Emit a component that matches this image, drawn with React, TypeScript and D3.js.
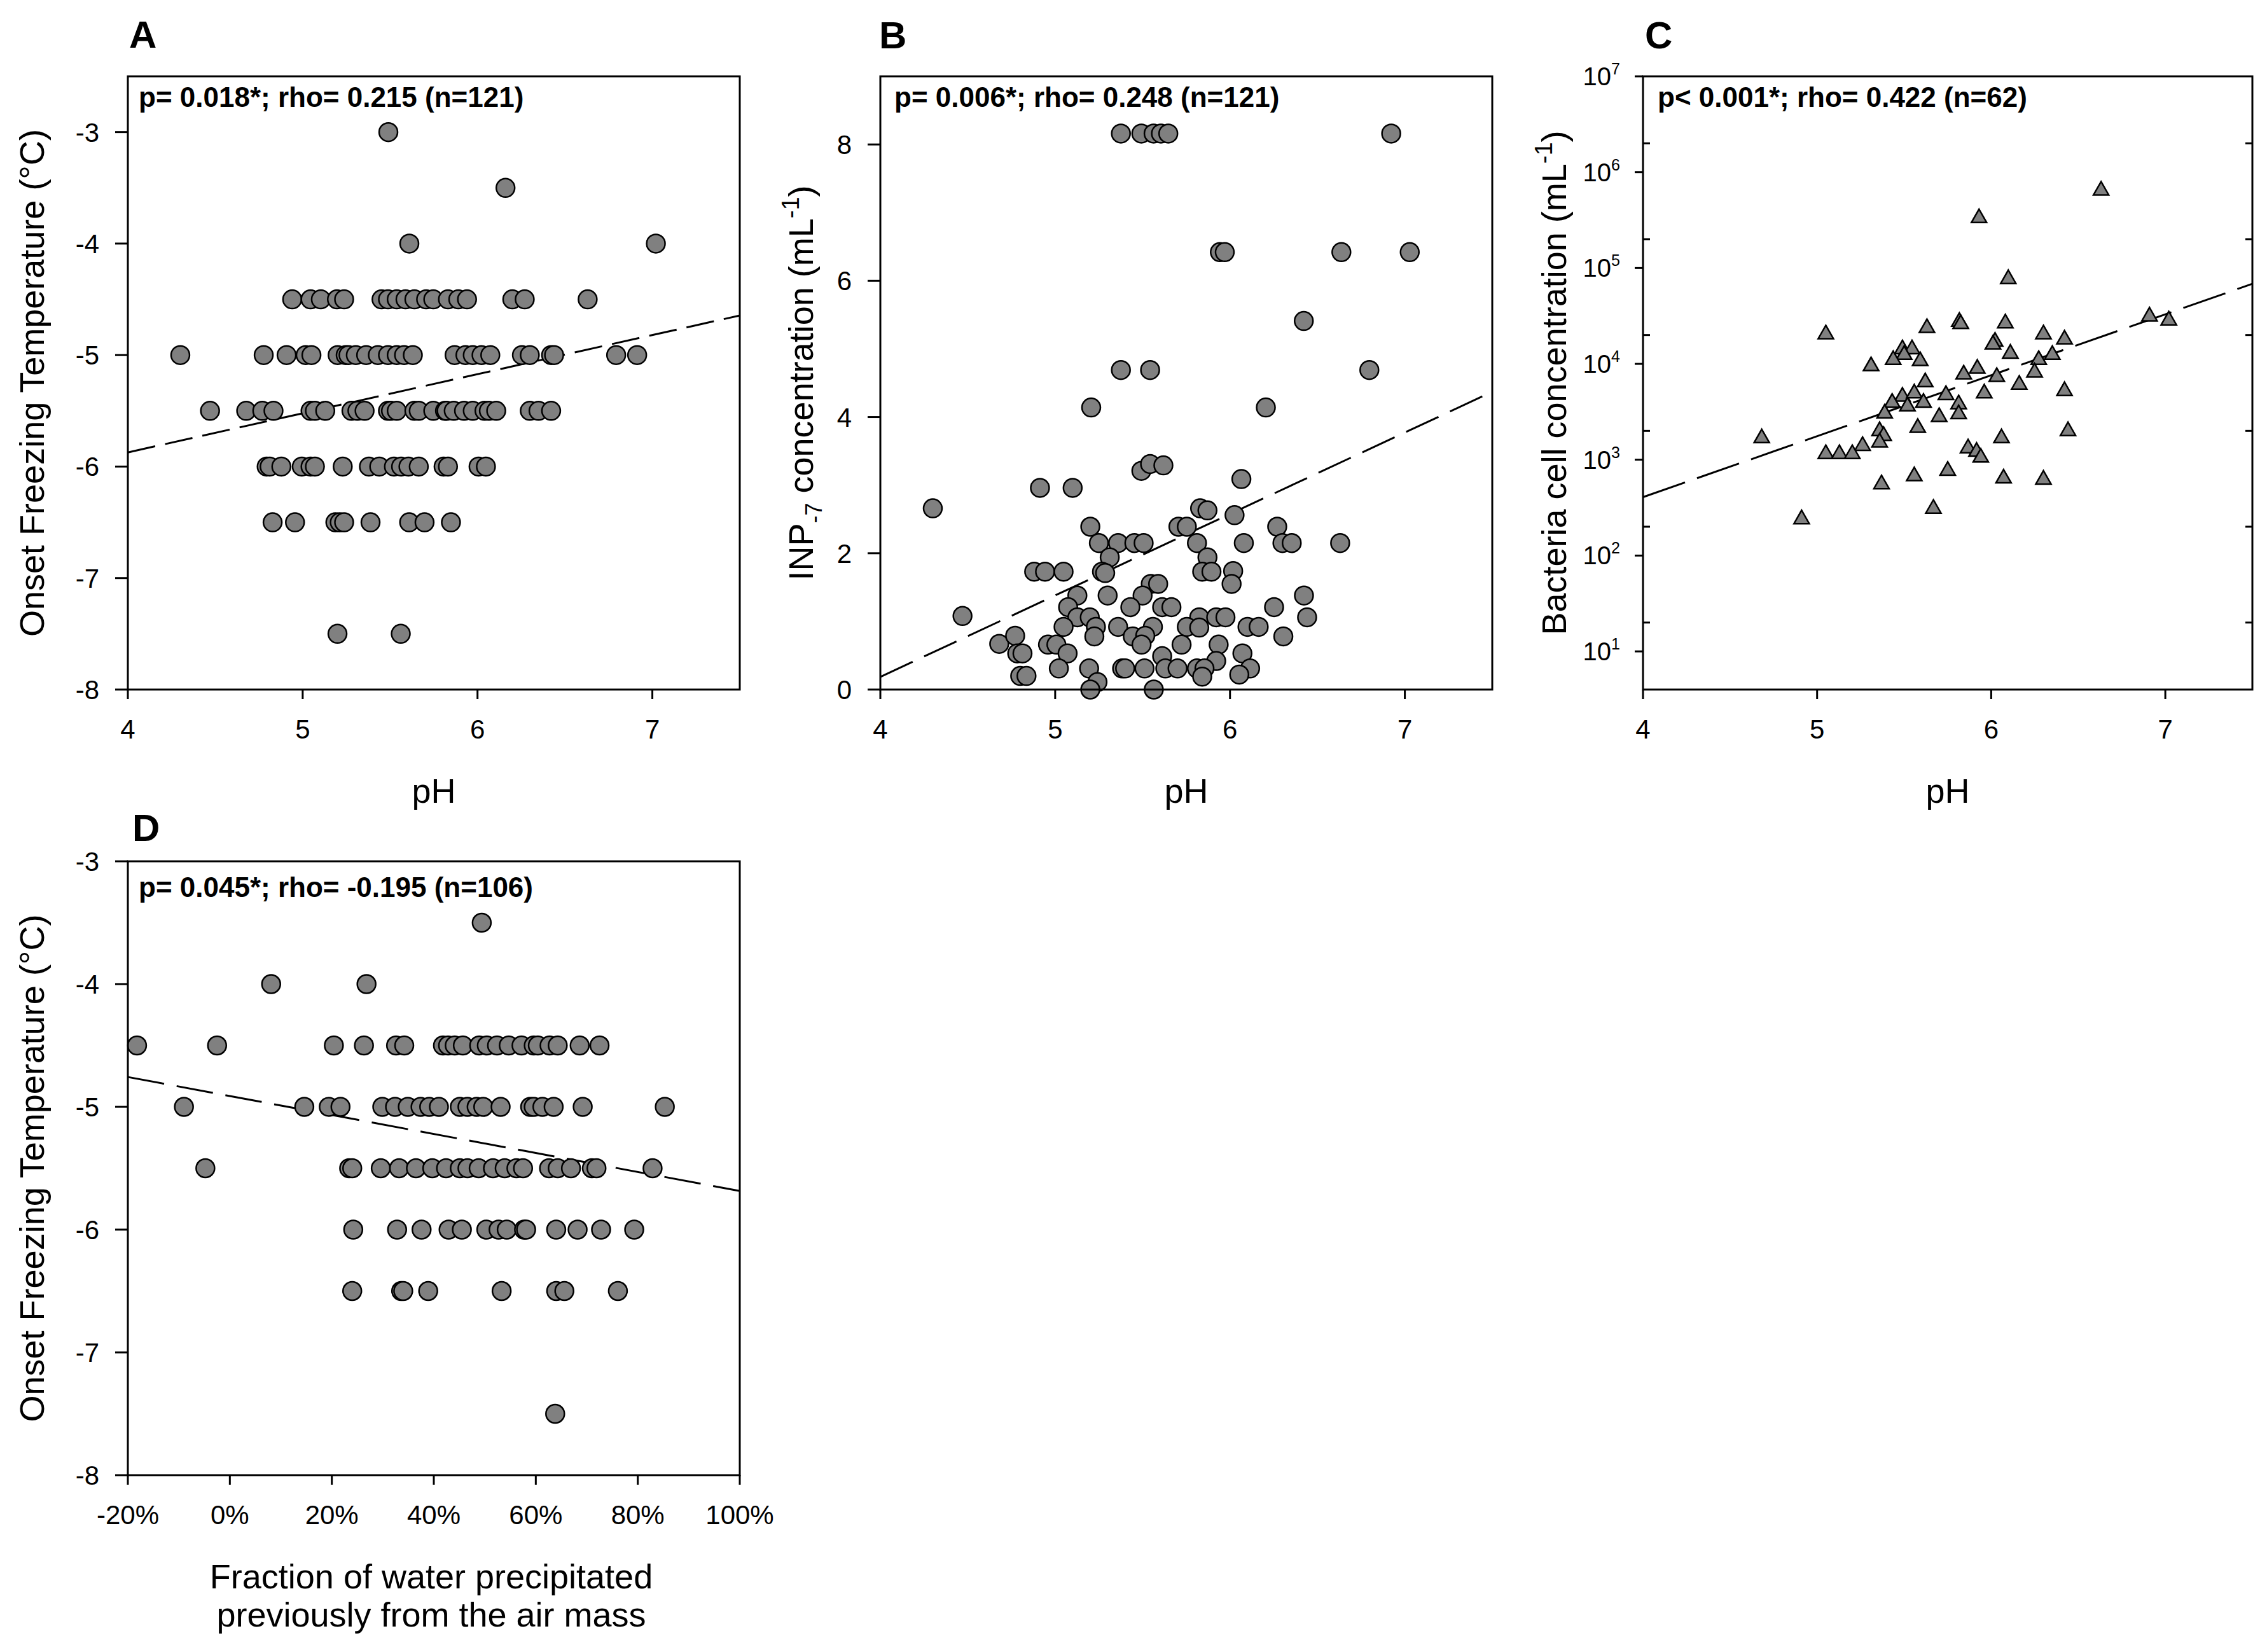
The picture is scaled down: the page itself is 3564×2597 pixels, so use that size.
import React, { useEffect } from 'react';
import * as d3 from 'd3';

const W = 3564;
const H = 2597;
const FONT = '"Liberation Sans", Arial, Helvetica, sans-serif';
const MARK_FILL = '#808080';

// ---- Panel A: onset freezing temperature vs pH (values grouped by temperature level)
const onsetLevelsA = [-3, -3.5, -4, -4.5, -5, -5.5, -6, -6.5, -7.5];
const phByLevelA = [
    [5.49],
    [6.16],
    [5.61, 7.02],
    [4.94, 5.045, 5.104, 5.196, 5.237, 5.451, 5.488, 5.538, 5.588, 5.639, 5.706, 5.747, 5.831, 5.89, 5.94, 6.199, 6.27, 6.63],
    [4.30, 4.777, 4.908, 5.017, 5.05, 5.20, 5.246, 5.262, 5.304, 5.363, 5.43, 5.488, 5.538, 5.58, 5.63, 5.869, 5.931, 5.973, 6.023, 6.073, 6.254, 6.299, 6.421, 6.438, 6.793, 6.913],
    [4.47, 4.677, 4.769, 4.833, 5.045, 5.07, 5.129, 5.279, 5.313, 5.354, 5.488, 5.505, 5.538, 5.639, 5.664, 5.747, 5.814, 5.823, 5.864, 5.923, 5.973, 6.04, 6.065, 6.107, 6.299, 6.349, 6.421],
    [4.794, 4.811, 4.878, 4.995, 5.045, 5.07, 5.229, 5.379, 5.438, 5.522, 5.563, 5.605, 5.664, 5.806, 5.831, 6.006, 6.048],
    [4.828, 4.956, 5.187, 5.212, 5.237, 5.388, 5.609, 5.697, 5.848],
    [5.199, 5.561],
];
const fitA: [number, number][] = [[4, -5.873], [7.5, -4.645]];

// ---- Panel B: INP-7 concentration vs pH  [pH, mL^-1]
const inpVsPh: [number, number][] = [
    [5.376, 8.16], [5.493, 8.16], [5.563, 8.16], [5.605, 8.16], [5.647, 8.16], [6.922, 8.16],
    [5.942, 6.42], [5.97, 6.42], [6.637, 6.42], [7.028, 6.42],
    [6.422, 5.41], [5.376, 4.69], [5.543, 4.69], [6.797, 4.69], [5.206, 4.14], [6.205, 4.14],
    [5.493, 3.21], [5.543, 3.31], [5.619, 3.29], [6.065, 3.09], [4.30, 2.66], [4.913, 2.96], [5.10, 2.96],
    [4.47, 1.08], [4.68, 0.67],
    [5.829, 2.66], [5.871, 2.63], [6.026, 2.56], [5.201, 2.39], [5.705, 2.39], [5.753, 2.39], [6.27, 2.39],
    [5.25, 2.15], [5.36, 2.15], [5.453, 2.15], [5.506, 2.15], [5.811, 2.15], [6.079, 2.15], [6.30, 2.15],
    [6.353, 2.15], [6.63, 2.15], [5.312, 1.94], [5.871, 1.94], [4.88, 1.73], [4.942, 1.73], [5.048, 1.73],
    [5.268, 1.73], [5.286, 1.71], [5.841, 1.73], [5.894, 1.73], [6.018, 1.74], [6.009, 1.55], [5.547, 1.55],
    [5.589, 1.55], [5.127, 1.38], [5.30, 1.38], [5.50, 1.38], [6.423, 1.38], [5.074, 1.21], [5.43, 1.21],
    [5.612, 1.21], [5.665, 1.21], [6.252, 1.21], [5.127, 1.06], [5.198, 1.06], [5.824, 1.06], [5.921, 1.06],
    [5.974, 1.06], [6.441, 1.06], [5.048, 0.92], [5.233, 0.92], [5.36, 0.92], [5.559, 0.92], [5.753, 0.92],
    [5.824, 0.91], [6.10, 0.92], [6.164, 0.92], [4.771, 0.79], [5.224, 0.78], [5.444, 0.78], [5.515, 0.79],
    [6.305, 0.78], [4.959, 0.66], [5.007, 0.66], [5.494, 0.66], [5.723, 0.66], [5.935, 0.66], [4.783, 0.53],
    [4.813, 0.53], [5.071, 0.53], [5.612, 0.49], [6.071, 0.53], [5.921, 0.42], [5.021, 0.31], [5.194, 0.31],
    [5.383, 0.31], [5.40, 0.31], [5.511, 0.31], [5.63, 0.31], [5.70, 0.31], [5.811, 0.31], [5.854, 0.31],
    [6.115, 0.31], [5.841, 0.19], [6.053, 0.22], [4.80, 0.20], [4.836, 0.20], [5.242, 0.11], [5.201, 0.0],
    [5.564, 0.0],
];
const fitB: [number, number][] = [[4, 0.186], [7.5, 4.37]];

// ---- Panel C: bacteria cell concentration vs pH  [pH, cells mL^-1]
const bacteriaVsPh: [number, number][] = [
    [6.631, 6.8e5], [5.930, 3.5e5], [6.098, 8.1e4], [6.909, 3.3e4], [7.020, 3.0e4], [5.05, 2.15e4],
    [5.631, 2.5e4], [5.817, 2.9e4], [5.825, 2.75e4], [6.081, 2.8e4], [6.30, 2.15e4], [6.421, 1.9e4],
    [6.022, 1.8e4], [6.01, 1.68e4], [5.49, 1.5e4], [5.545, 1.5e4], [5.50, 1.31e4], [5.437, 1.16e4],
    [5.592, 1.13e4], [6.11, 1.35e4], [6.351, 1.31e4], [6.273, 1.16e4], [5.31, 1.0e4], [5.92, 9.4e3],
    [5.842, 8.2e3], [6.032, 7.7e3], [6.249, 8.6e3], [5.621, 6.8e3], [6.161, 6.4e3], [6.421, 5.5e3],
    [5.49, 4.8e3], [5.558, 5.2e3], [5.74, 5.0e3], [5.96, 5.2e3], [5.431, 4.15e3], [5.519, 3.8e3],
    [5.611, 4.15e3], [5.813, 4.0e3], [5.388, 3.2e3], [5.813, 3.15e3], [5.701, 2.95e3], [5.578, 2.27e3],
    [5.359, 2.1e3], [5.382, 1.87e3], [5.359, 1.6e3], [4.682, 1.77e3], [5.261, 1.47e3], [5.05, 1.21e3],
    [5.128, 1.21e3], [5.202, 1.21e3], [6.059, 1.77e3], [6.441, 2.1e3], [5.867, 1.39e3], [5.916, 1.28e3],
    [5.94, 1.11e3], [5.75, 810], [5.558, 710], [6.071, 673], [6.30, 655], [5.37, 586], [4.911, 253],
    [5.668, 325],
];
const fitC: [number, number][] = [[4, 407], [7.5, 68400]];

// ---- Panel D: onset freezing temperature vs fraction precipitated (grouped by level)
const onsetLevelsD = [-3.5, -4, -4.5, -5, -5.5, -6, -6.5, -7.5];
const fracByLevelD = [
    [0.494],
    [0.081, 0.268],
    [-0.182, -0.025, 0.204, 0.263, 0.326, 0.342, 0.418, 0.428, 0.441, 0.457, 0.489, 0.504, 0.524, 0.547, 0.572, 0.596, 0.604, 0.627, 0.643, 0.686, 0.725],
    [-0.090, 0.146, 0.194, 0.217, 0.299, 0.324, 0.349, 0.374, 0.391, 0.41, 0.451, 0.466, 0.484, 0.497, 0.531, 0.589, 0.596, 0.613, 0.635, 0.692, 0.853],
    [-0.048, 0.234, 0.24, 0.296, 0.332, 0.365, 0.397, 0.424, 0.451, 0.466, 0.488, 0.516, 0.539, 0.562, 0.575, 0.626, 0.643, 0.669, 0.71, 0.719, 0.829],
    [0.242, 0.328, 0.376, 0.429, 0.455, 0.503, 0.527, 0.543, 0.577, 0.581, 0.64, 0.682, 0.728, 0.793],
    [0.24, 0.336, 0.34, 0.389, 0.533, 0.64, 0.656, 0.761],
    [0.638],
];
const fitD: [number, number][] = [[-0.2, -4.757], [1.0, -5.685]];

const phTicks = [4, 5, 6, 7];
const onsetTicks = [-3, -4, -5, -6, -7, -8];
const inpTicks = [0, 2, 4, 6, 8];
const bacteriaTicks = [1e1, 1e2, 1e3, 1e4, 1e5, 1e6, 1e7];
const bacteriaMinor = [2e1, 2e2, 2e3, 2e4, 2e5, 2e6];
const fracTicks = [-0.2, 0, 0.2, 0.4, 0.6, 0.8, 1.0];

const flatten = (levels: number[], byLevel: number[][]) =>
    byLevel.flatMap((xs, i) => xs.map(x => [x, levels[i]] as [number, number]));

type Box = { x0: number; x1: number; y0: number; y1: number };
const boxA: Box = { x0: 201, x1: 1163, y0: 120, y1: 1084 };
const boxB: Box = { x0: 1384, x1: 2346, y0: 120, y1: 1084 };
const boxC: Box = { x0: 2583, x1: 3541, y0: 120, y1: 1084 };
const boxD: Box = { x0: 201, x1: 1163, y0: 1354, y1: 2319 };

const XTICK = 15;
const YTICK = 20;
const TICK_FS = 42;
const TITLE_FS = 54;

// plain hyphen for negatives, like the original figure
const plain = (v: number) => String(v);
const percent = (v: number) => `${Math.round(v * 100)}%`;

function Frame({ b }: { b: Box }) {
    return <rect x={b.x0} y={b.y0} width={b.x1 - b.x0} height={b.y1 - b.y0} fill="none" stroke="#000" strokeWidth={3} />;
}

function XAxis({ b, scale, ticks, fmt }: { b: Box; scale: (v: number) => number; ticks: number[]; fmt: (v: number) => string }) {
    return (
        <g>
            {ticks.map(t => (
                <g key={t}>
                    <line x1={scale(t)} x2={scale(t)} y1={b.y1} y2={b.y1 + XTICK} stroke="#000" strokeWidth={3} />
                    <text x={scale(t)} y={b.y1 + 77} textAnchor="middle" fontSize={TICK_FS}>{fmt(t)}</text>
                </g>
            ))}
        </g>
    );
}

function YAxis({ b, scale, ticks }: { b: Box; scale: (v: number) => number; ticks: number[] }) {
    return (
        <g>
            {ticks.map(t => (
                <g key={t}>
                    <line x1={b.x0 - YTICK} x2={b.x0} y1={scale(t)} y2={scale(t)} stroke="#000" strokeWidth={3} />
                    <text x={b.x0 - 45} y={scale(t) + 15} textAnchor="end" fontSize={TICK_FS}>{plain(t)}</text>
                </g>
            ))}
        </g>
    );
}

function Fit({ pts, sx, sy, dash }: { pts: [number, number][]; sx: (v: number) => number; sy: (v: number) => number; dash: string }) {
    return (
        <line x1={sx(pts[0][0])} y1={sy(pts[0][1])} x2={sx(pts[1][0])} y2={sy(pts[1][1])}
            stroke="#000" strokeWidth={3} strokeDasharray={dash} />
    );
}

function Dots({ data, sx, sy }: { data: [number, number][]; sx: (v: number) => number; sy: (v: number) => number }) {
    return (
        <g>
            {data.map((d, i) => (
                <circle key={i} cx={sx(d[0])} cy={sy(d[1])} r={14.5} fill={MARK_FILL} stroke="#000" strokeWidth={2.5} />
            ))}
        </g>
    );
}

export default function App() {
    useEffect(() => {
        document.body.style.margin = '0';
    }, []);

    const xA = d3.scaleLinear().domain([4, 7.5]).range([boxA.x0, boxA.x1]);
    const yA = d3.scaleLinear().domain([-8, -2.5]).range([boxA.y1, boxA.y0]);
    const xB = d3.scaleLinear().domain([4, 7.5]).range([boxB.x0, boxB.x1]);
    const yB = d3.scaleLinear().domain([0, 9]).range([boxB.y1, boxB.y0]);
    const xC = d3.scaleLinear().domain([4, 7.5]).range([boxC.x0, boxC.x1]);
    const yC = d3.scaleLog().domain([4, 1e7]).range([boxC.y1, boxC.y0]);
    const xD = d3.scaleLinear().domain([-0.2, 1.0]).range([boxD.x0, boxD.x1]);
    const yD = d3.scaleLinear().domain([-8, -3]).range([boxD.y1, boxD.y0]);

    const dataA = flatten(onsetLevelsA, phByLevelA);
    const dataD = flatten(onsetLevelsD, fracByLevelD);

    const midY = (b: Box) => (b.y0 + b.y1) / 2;
    const midX = (b: Box) => (b.x0 + b.x1) / 2;

    return (
        <svg width={W} height={H} viewBox={`0 0 ${W} ${H}`} style={{ display: 'block', background: '#fff' }}
            fontFamily={FONT} fill="#000">
            <rect width={W} height={H} fill="#fff" />

            {/* A */}
            <text x={203} y={75} fontSize={60} fontWeight="bold">A</text>
            <Fit pts={fitA} sx={xA} sy={yA} dash="44,16" />
            <Dots data={dataA} sx={xA} sy={yA} />
            <Frame b={boxA} />
            <XAxis b={boxA} scale={xA} ticks={phTicks} fmt={plain} />
            <YAxis b={boxA} scale={yA} ticks={onsetTicks} />
            <text x={218} y={168} fontSize={44} fontWeight="bold">p= 0.018*; rho= 0.215 (n=121)</text>
            <text x={midX(boxA)} y={1262} textAnchor="middle" fontSize={TITLE_FS}>pH</text>
            <text transform={`translate(69,${midY(boxA)}) rotate(-90)`} textAnchor="middle" fontSize={TITLE_FS}>
                Onset Freezing Temperature (°C)
            </text>

            {/* B */}
            <text x={1382} y={76} fontSize={60} fontWeight="bold">B</text>
            <Fit pts={fitB} sx={xB} sy={yB} dash="56,20" />
            <Dots data={inpVsPh} sx={xB} sy={yB} />
            <Frame b={boxB} />
            <XAxis b={boxB} scale={xB} ticks={phTicks} fmt={plain} />
            <YAxis b={boxB} scale={yB} ticks={inpTicks} />
            <text x={1406} y={168} fontSize={44} fontWeight="bold">p= 0.006*; rho= 0.248 (n=121)</text>
            <text x={midX(boxB)} y={1262} textAnchor="middle" fontSize={TITLE_FS}>pH</text>
            <text transform={`translate(1278,${midY(boxB)}) rotate(-90)`} textAnchor="middle" fontSize={TITLE_FS}>
                INP<tspan fontSize={36} dy={14}>-7</tspan>
                <tspan dy={-14}> concentration (mL</tspan>
                <tspan fontSize={38} dy={-22}>-1</tspan>
                <tspan dy={22}>)</tspan>
            </text>

            {/* C */}
            <text x={2586} y={76} fontSize={60} fontWeight="bold">C</text>
            <Fit pts={fitC} sx={xC} sy={yC} dash="70,20" />
            <g>
                {bacteriaVsPh.map((d, i) => (
                    <path key={i} transform={`translate(${xC(d[0])},${yC(d[1])})`}
                        d="M0,-10.5L12,10.5L-12,10.5Z" fill={MARK_FILL} stroke="#000" strokeWidth={2.5}
                        strokeLinejoin="miter" />
                ))}
            </g>
            <Frame b={boxC} />
            <XAxis b={boxC} scale={xC} ticks={phTicks} fmt={plain} />
            <g>
                {bacteriaTicks.map(t => (
                    <g key={t}>
                        <line x1={boxC.x0 - 13} x2={boxC.x0} y1={yC(t)} y2={yC(t)} stroke="#000" strokeWidth={3} />
                        <text x={boxC.x0 - 36} y={yC(t) + 14} textAnchor="end" fontSize={40}>
                            10<tspan fontSize={25} dy={-17}>{Math.round(Math.log10(t))}</tspan>
                        </text>
                    </g>
                ))}
                {bacteriaMinor.map(t => (
                    <g key={t}>
                        <line x1={boxC.x0} x2={boxC.x0 + 11} y1={yC(t)} y2={yC(t)} stroke="#000" strokeWidth={3} />
                        <line x1={boxC.x1 - 11} x2={boxC.x1} y1={yC(t)} y2={yC(t)} stroke="#000" strokeWidth={3} />
                    </g>
                ))}
            </g>
            <text x={2606} y={168} fontSize={44} fontWeight="bold">p&lt; 0.001*; rho= 0.422 (n=62)</text>
            <text x={midX(boxC)} y={1262} textAnchor="middle" fontSize={TITLE_FS}>pH</text>
            <text transform={`translate(2462,${midY(boxC)}) rotate(-90)`} textAnchor="middle" fontSize={TITLE_FS}>
                Bacteria cell concentration (mL<tspan fontSize={38} dy={-22}>-1</tspan>
                <tspan dy={22}>)</tspan>
            </text>

            {/* D */}
            <text x={208} y={1322} fontSize={60} fontWeight="bold">D</text>
            <Fit pts={fitD} sx={xD} sy={yD} dash="58,20" />
            <Dots data={dataD} sx={xD} sy={yD} />
            <Frame b={boxD} />
            <XAxis b={boxD} scale={xD} ticks={fracTicks} fmt={percent} />
            <YAxis b={boxD} scale={yD} ticks={onsetTicks} />
            <text x={218} y={1410} fontSize={44} fontWeight="bold">p= 0.045*; rho= -0.195 (n=106)</text>
            <text x={678} y={2497} textAnchor="middle" fontSize={TITLE_FS}>Fraction of water precipitated</text>
            <text x={678} y={2557} textAnchor="middle" fontSize={TITLE_FS}>previously from the air mass</text>
            <text transform={`translate(69,${midY(boxD)}) rotate(-90)`} textAnchor="middle" fontSize={TITLE_FS}>
                Onset Freezing Temperature (°C)
            </text>
        </svg>
    );
}
